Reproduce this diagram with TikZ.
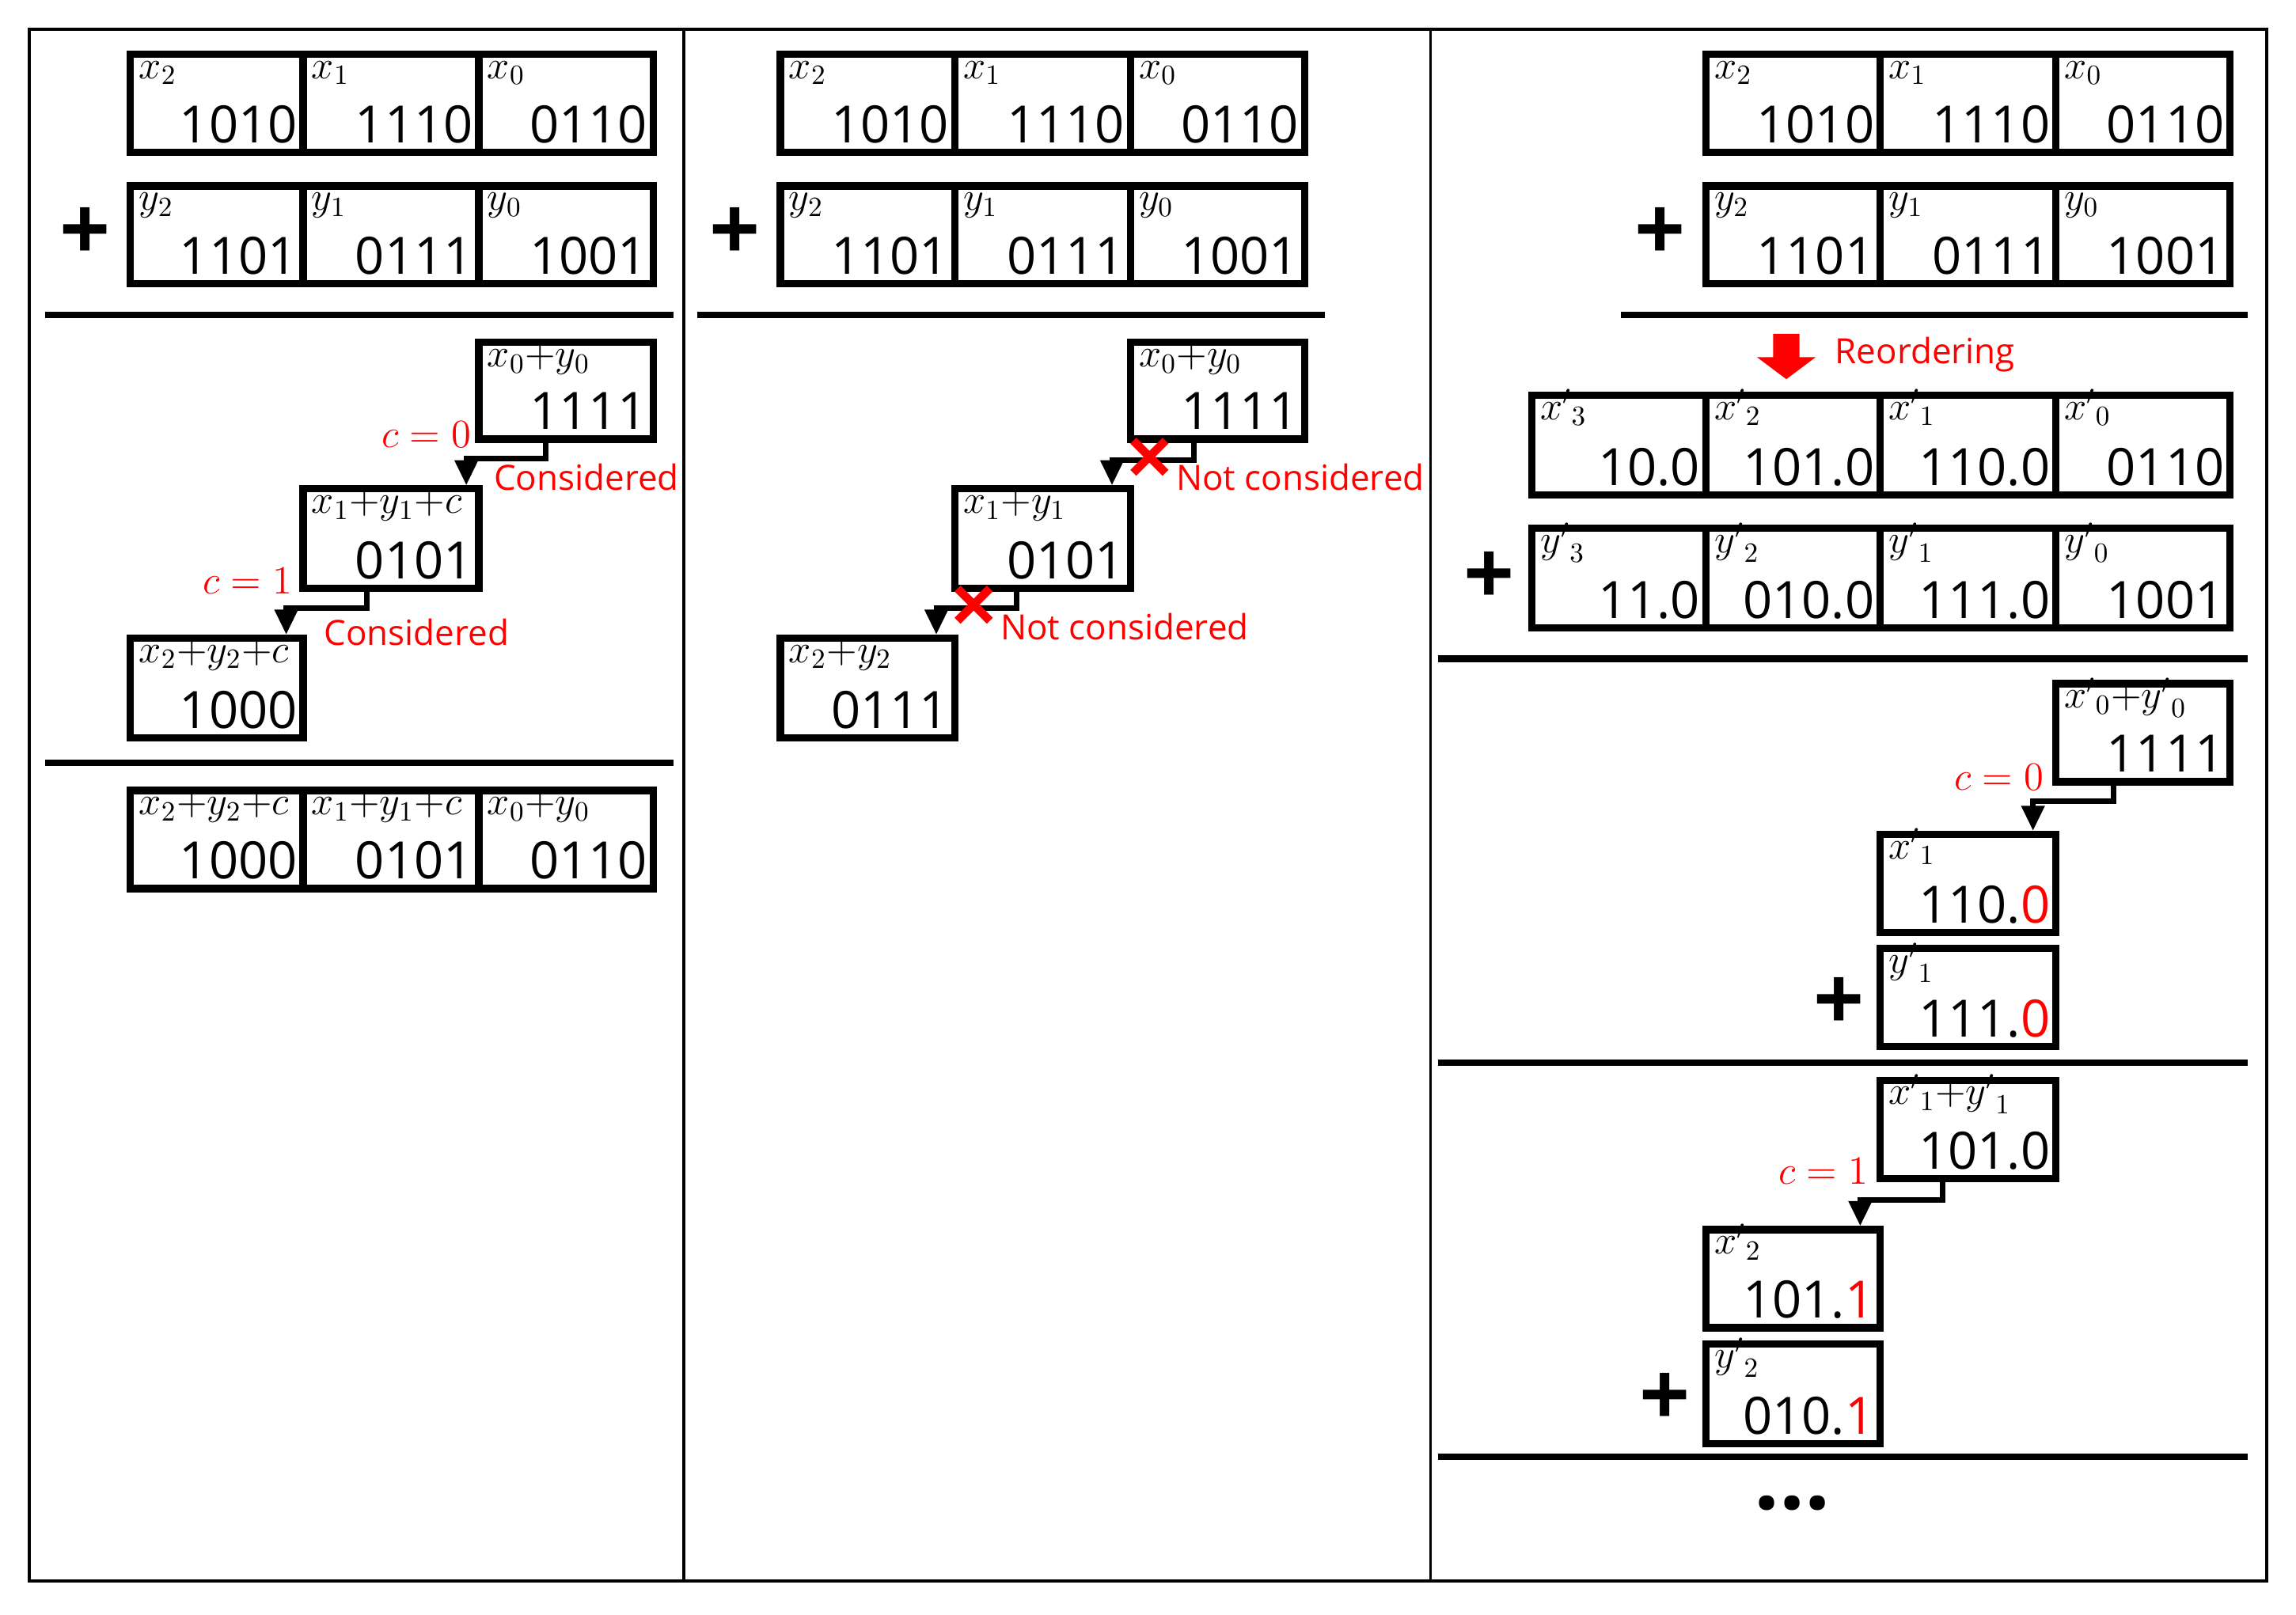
\documentclass[tikz,border=0pt]{standalone}
\usepackage{fontspec}
\setmainfont{Open Sans}
\usetikzlibrary{fit,arrows.meta}
\newcommand\mkcell[5]{%
  \node[cbox, fit={(#2) (#3)}] (#1) {};
  \node[lab] (#1l) at ([shift={(8,19)}]#1.north west) {#4};
  \node[val] (#1v) at ([shift={(-6,-9)}]#1.south east) {#5};
}
\begin{document}
\begin{tikzpicture}[x=0.0185cm,y=-0.0185cm,
  cbox/.style={draw, line width=2.6pt, inner sep=0pt},
  lab/.style={anchor=base west, inner sep=0pt, font=\fontsize{14}{14}\selectfont},
  val/.style={anchor=base east, inner sep=0pt, font=\fontsize{18.5}{18.5}\selectfont},
  sepline/.style={line width=2.4pt},
  conn/.style={line width=2pt, -{Triangle[width=8pt,length=9pt]}},
  redlab/.style={text=red, inner sep=0pt, font=\fontsize{12.5}{12.5}\selectfont},
  redmath/.style={text=red, inner sep=0pt, font=\fontsize{15}{15}\selectfont},
  redx/.style={draw=red, line width=3pt},
  plus/.style={inner sep=0pt, font=\fontsize{32}{32}\selectfont\bfseries}]
\useasboundingbox (0,0) rectangle (1568.1,1102.7);
\draw[line width=1pt] (20,20) rectangle (1548,1080);
\draw[line width=0.9pt] (467,20) -- (467,1080);
\draw[line width=0.9pt] (977,20) -- (977,1080);

% ---------- column 1 ----------
\mkcell{ax2}{89,37}{207,104}{$x_2$}{1010}
\mkcell{ax1}{207,37}{327,104}{$x_1$}{1110}
\mkcell{ax0}{327,37}{446,104}{$x_0$}{0110}
\mkcell{ay2}{89,127}{207,194}{$y_2$}{1101}
\mkcell{ay1}{207,127}{327,194}{$y_1$}{0111}
\mkcell{ay0}{327,127}{446,194}{$y_0$}{1001}
\node[plus] (aplus) at (58,160) {+};
\draw[sepline] (31,215) -- (460,215);
\mkcell{as0}{327,234}{446,300}{$x_0{+}y_0$}{1111}
\mkcell{as1}{207,334}{327,402}{$x_1{+}y_1{+}c$}{0101}
\mkcell{as2}{89,436}{207,504}{$x_2{+}y_2{+}c$}{1000}
\draw[conn] ([shift={(48,0)}]as0.south west) -- ++(0,11) -| ([shift={(-11,0)}]as1.north east);
\draw[conn] ([shift={(46,0)}]as1.south west) -- ++(0,11) -| ([shift={(-14,0)}]as2.north east);
\node[redmath, anchor=east] (ac0) at (322,297) {$c=0$};
\node[redmath, anchor=east] (ac1) at (200,397) {$c=1$};
\node[redlab, anchor=west] (acons1) at (337,326) {Considered};
\node[redlab, anchor=west] (acons2) at (221,432) {Considered};
\draw[sepline] (31,521) -- (460,521);
\mkcell{ar2}{89,540}{207,607}{$x_2{+}y_2{+}c$}{1000}
\mkcell{ar1}{207,540}{327,607}{$x_1{+}y_1{+}c$}{0101}
\mkcell{ar0}{327,540}{446,607}{$x_0{+}y_0$}{0110}

% ---------- column 2 ----------
\mkcell{bx2}{533,37}{652,104}{$x_2$}{1010}
\mkcell{bx1}{652,37}{772,104}{$x_1$}{1110}
\mkcell{bx0}{772,37}{891,104}{$x_0$}{0110}
\mkcell{by2}{533,127}{652,194}{$y_2$}{1101}
\mkcell{by1}{652,127}{772,194}{$y_1$}{0111}
\mkcell{by0}{772,127}{891,194}{$y_0$}{1001}
\node[plus] (bplus) at (502,160) {+};
\draw[sepline] (476,215) -- (905,215);
\mkcell{bs0}{772,234}{891,300}{$x_0{+}y_0$}{1111}
\mkcell{bs1}{652,334}{772,402}{$x_1{+}y_1$}{0101}
\mkcell{bs2}{533,436}{652,504}{$x_2{+}y_2$}{0111}
\draw[conn] ([shift={(46,0)}]bs0.south west) -- ++(0,12) -| ([shift={(-15,0)}]bs1.north east);
\draw[conn] ([shift={(45,0)}]bs1.south west) -- ++(0,11) -| ([shift={(-15,0)}]bs2.north east);
\draw[redx] (774,301) -- (796,323) (774,323) -- (796,301);
\draw[redx] (654,402) -- (676,424) (654,424) -- (676,402);
\node[redlab, anchor=west] (bnot1) at (803,326) {Not considered};
\node[redlab, anchor=west] (bnot2) at (683,428) {Not considered};

% ---------- column 3 ----------
\mkcell{cx2}{1165,37}{1284,104}{$x_2$}{1010}
\mkcell{cx1}{1284,37}{1404,104}{$x_1$}{1110}
\mkcell{cx0}{1404,37}{1523,104}{$x_0$}{0110}
\mkcell{cy2}{1165,127}{1284,194}{$y_2$}{1101}
\mkcell{cy1}{1284,127}{1404,194}{$y_1$}{0111}
\mkcell{cy0}{1404,127}{1523,194}{$y_0$}{1001}
\node[plus] (cplus) at (1134,160) {+};
\draw[sepline] (1107,215) -- (1535,215);
\fill[red] (1211,228) -- (1229,228) -- (1229,244) -- (1240,244) -- (1220,259) -- (1200,244) -- (1211,244) -- cycle;
\node[redlab, anchor=west] (creord) at (1253,242) {Reordering};
\mkcell{cpx3}{1046,270}{1165,338}{${x'}_3$}{10.0}
\mkcell{cpx2}{1165,270}{1284,338}{${x'}_2$}{101.0}
\mkcell{cpx1}{1284,270}{1404,338}{${x'}_1$}{110.0}
\mkcell{cpx0}{1404,270}{1523,338}{${x'}_0$}{0110}
\mkcell{cpy3}{1046,361}{1165,429}{${y'}_3$}{11.0}
\mkcell{cpy2}{1165,361}{1284,429}{${y'}_2$}{010.0}
\mkcell{cpy1}{1284,361}{1404,429}{${y'}_1$}{111.0}
\mkcell{cpy0}{1404,361}{1523,429}{${y'}_0$}{1001}
\node[plus] (cplus2) at (1017,395) {+};
\draw[sepline] (982,450) -- (1535,450);
\mkcell{cs0}{1404,467}{1523,534}{${x'}_0{+}{y'}_0$}{1111}
\mkcell{cs1x}{1284,570}{1404,637}{${x'}_1$}{110.\textcolor{red}{0}}
\mkcell{cs1y}{1284,648}{1404,715}{${y'}_1$}{111.\textcolor{red}{0}}
\node[plus] (cplus3) at (1256,686) {+};
\draw[conn] ([shift={(42,0)}]cs0.south west) -- ++(0,11) -| ([shift={(-18,0)}]cs1x.north east);
\node[redmath, anchor=east] (cc0) at (1396,531) {$c=0$};
\draw[sepline] (982,726) -- (1535,726);
\mkcell{cs1}{1284,738}{1404,805}{${x'}_1{+}{y'}_1$}{101.0}
\mkcell{cs2x}{1165,840}{1284,907}{${x'}_2$}{101.\textcolor{red}{1}}
\mkcell{cs2y}{1165,918}{1284,986}{${y'}_2$}{010.\textcolor{red}{1}}
\node[plus] (cplus4) at (1137,956) {+};
\draw[conn] ([shift={(45,0)}]cs1.south west) -- ++(0,12) -| ([shift={(-16,0)}]cs2x.north east);
\node[redmath, anchor=east] (cc1) at (1276,800) {$c=1$};
\draw[sepline] (982,995) -- (1535,995);
\node[inner sep=0pt, font=\fontsize{32}{32}\selectfont\bfseries] (cdots) at (1224,1027) {…};
\end{tikzpicture}
\end{document}
